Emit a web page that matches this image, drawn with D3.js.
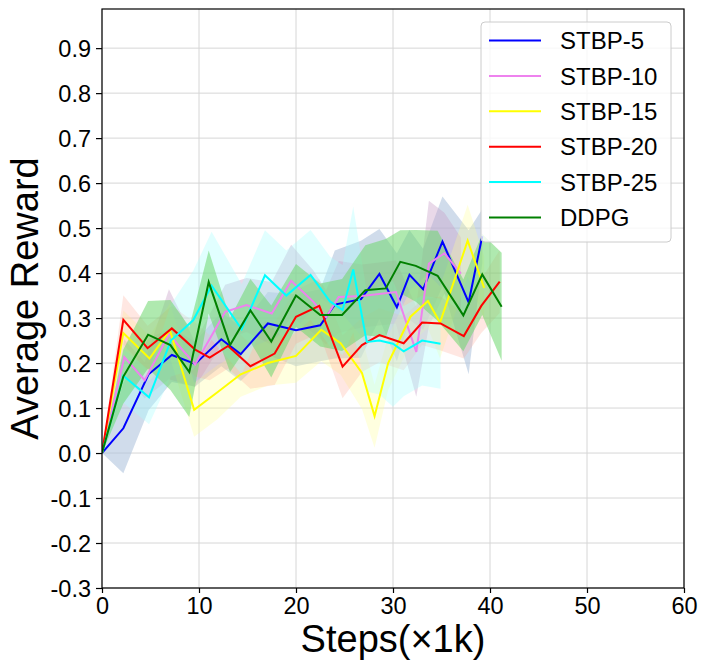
<!DOCTYPE html>
<html>
<head>
<meta charset="utf-8">
<script src="https://cdn.jsdelivr.net/npm/d3@7"></script>
<style>
  body { margin: 0; background: #fff; }
  svg text { font-family: Arial, "Liberation Sans", sans-serif; fill: #000; }
</style>
</head>
<body>
<div id="chart"></div>
<script>
// series: [step (x1k), mean reward]
const stbp5 = [[0, 0], [2.2, 0.055], [4.8, 0.175], [7.2, 0.218], [9.6, 0.198], [12.3, 0.253], [14.3, 0.22], [17.1, 0.288], [20.0, 0.273], [22.5, 0.284], [24.0, 0.33], [26.7, 0.342], [28.6, 0.398], [30.4, 0.324], [31.7, 0.396], [33.1, 0.364], [35.1, 0.47], [37.8, 0.335], [39.2, 0.482]];
const stbp5Spread = [0, 0.1, 0.08, 0.06, 0.05, 0.06, 0.06, 0.07, 0.08, 0.08, 0.12, 0.13, 0.1, 0.12, 0.1, 0.09, 0.1, 0.16, 0.06];

const stbp10 = [[0, 0], [2.3, 0.213], [4.4, 0.162], [6.9, 0.264], [9.6, 0.197], [12.7, 0.314], [14.9, 0.329], [17.5, 0.31], [19.5, 0.383], [21.8, 0.336], [23.1, 0.302], [24.4, 0.347], [26.8, 0.349], [30.3, 0.358], [32.4, 0.225], [33.7, 0.421], [35.3, 0.444], [37.0, 0.399]];
const stbp10Spread = [0, 0.04, 0.04, 0.1, 0.05, 0.06, 0.06, 0.07, 0.08, 0.07, 0.06, 0.08, 0.07, 0.07, 0.1, 0.14, 0.09, 0.08];

const stbp15 = [[0, 0], [2.2, 0.267], [4.9, 0.21], [7.0, 0.273], [9.5, 0.096], [11.9, 0.135], [14.3, 0.175], [17.1, 0.2], [20.0, 0.216], [22.6, 0.274], [24.6, 0.244], [26.8, 0.178], [28.1, 0.082], [29.5, 0.2], [31.8, 0.303], [33.6, 0.338], [34.85, 0.29], [37.7, 0.472], [39.4, 0.367]];
const stbp15Spread = [0, 0.05, 0.05, 0.06, 0.06, 0.06, 0.05, 0.05, 0.06, 0.07, 0.07, 0.08, 0.07, 0.06, 0.06, 0.06, 0.08, 0.08, 0.07];

const stbp20 = [[0, 0], [2.2, 0.296], [4.7, 0.233], [7.2, 0.277], [9.6, 0.23], [11.1, 0.212], [13.0, 0.238], [15.3, 0.193], [17.8, 0.221], [20.0, 0.303], [22.4, 0.327], [24.8, 0.192], [26.8, 0.24], [28.6, 0.262], [31.1, 0.244], [33.0, 0.29], [34.9, 0.288], [37.3, 0.26], [39.1, 0.327], [41.0, 0.381]];
const stbp20Spread = [0, 0.055, 0.05, 0.05, 0.06, 0.05, 0.05, 0.05, 0.07, 0.06, 0.06, 0.07, 0.06, 0.06, 0.06, 0.05, 0.06, 0.05, 0.06, 0.07];

const stbp25 = [[0, 0], [2.2, 0.172], [4.85, 0.124], [7.1, 0.25], [9.4, 0.295], [11.3, 0.372], [14.4, 0.275], [16.8, 0.395], [19.0, 0.35], [21.5, 0.396], [23.5, 0.337], [24.8, 0.318], [25.9, 0.408], [27.3, 0.247], [28.6, 0.25], [30.0, 0.243], [31.1, 0.226], [33.0, 0.25], [34.9, 0.243]];
const stbp25Spread = [0, 0.06, 0.06, 0.08, 0.11, 0.12, 0.1, 0.1, 0.1, 0.1, 0.1, 0.1, 0.14, 0.11, 0.12, 0.14, 0.1, 0.1, 0.1];

const ddpg = [[0, 0], [2.2, 0.17], [4.75, 0.263], [7.05, 0.24], [9.0, 0.18], [11.0, 0.38], [13.2, 0.24], [15.3, 0.317], [17.45, 0.248], [20.0, 0.35], [22.5, 0.307], [24.75, 0.307], [27.15, 0.362], [29.25, 0.366], [30.75, 0.425], [32.35, 0.416], [34.6, 0.394], [37.25, 0.306], [39.2, 0.397], [41.2, 0.325]];
const ddpgSpread = [0, 0.06, 0.075, 0.1, 0.1, 0.07, 0.06, 0.07, 0.08, 0.07, 0.07, 0.08, 0.1, 0.11, 0.07, 0.08, 0.1, 0.08, 0.09, 0.12];

const seriesNames = ['STBP-5', 'STBP-10', 'STBP-15', 'STBP-20', 'STBP-25', 'DDPG'];
const lineColors = ['#0000ff', '#ee82ee', '#ffff00', '#ff0000', '#00ffff', '#008000'];
const bandColors = ['rgba(176,196,222,0.6)', 'rgba(200,160,200,0.4)', 'rgba(255,255,150,0.3)', 'rgba(255,160,140,0.25)', 'rgba(170,255,255,0.35)', 'rgba(110,215,110,0.55)'];

const xTicks = [0, 10, 20, 30, 40, 50, 60];
const yTicks = [-0.3, -0.2, -0.1, 0.0, 0.1, 0.2, 0.3, 0.4, 0.5, 0.6, 0.7, 0.8, 0.9];

const series = [
  { name: seriesNames[0], pts: stbp5, spread: stbp5Spread },
  { name: seriesNames[1], pts: stbp10, spread: stbp10Spread },
  { name: seriesNames[2], pts: stbp15, spread: stbp15Spread },
  { name: seriesNames[3], pts: stbp20, spread: stbp20Spread },
  { name: seriesNames[4], pts: stbp25, spread: stbp25Spread },
  { name: seriesNames[5], pts: ddpg, spread: ddpgSpread }
];

const W = 707, H = 669;
const margin = { top: 9, right: 23, bottom: 81, left: 102 },
  width = W - margin.left - margin.right,
  height = H - margin.top - margin.bottom;

const svg = d3.select('#chart').
  append('svg').
  attr('width', W).
  attr('height', H);

const chart = svg.append('g').
  attr('transform', 'translate(' + margin.left + ',' + margin.top + ')');

const x = d3.scaleLinear().domain([0, 60]).range([0, width]);
const y = d3.scaleLinear().domain([-0.3, 0.987]).range([height, 0]);

// grid
chart.append('g').selectAll('line').
  data(xTicks).
  enter().append('line').
    attr('x1', d => x(d)).attr('x2', d => x(d)).
    attr('y1', 0).attr('y2', height).
    attr('stroke', '#d6d6d6').attr('stroke-width', 1);
chart.append('g').selectAll('line').
  data(yTicks).
  enter().append('line').
    attr('x1', 0).attr('x2', width).
    attr('y1', d => y(d)).attr('y2', d => y(d)).
    attr('stroke', '#d6d6d6').attr('stroke-width', 1);

const clip = chart.append('clipPath').attr('id', 'plotclip');
clip.append('rect').attr('width', width).attr('height', height);

const plot = chart.append('g').attr('clip-path', 'url(#plotclip)');

const area = d3.area().
  x(d => x(d[0])).
  y0(d => y(d[1] - d[2])).
  y1(d => y(d[1] + d[2]));

const line = d3.line().
  x(d => x(d[0])).
  y(d => y(d[1]));

series.forEach(function(s, i) {
  plot.append('path').
    datum(s.pts.map((p, j) => [p[0], p[1], s.spread[j]])).
    attr('fill', bandColors[i]).
    attr('stroke', 'none').
    attr('d', area);
});

series.forEach(function(s, i) {
  plot.append('path').
    datum(s.pts).
    attr('fill', 'none').
    attr('stroke', lineColors[i]).
    attr('stroke-width', 2).
    attr('stroke-linejoin', 'miter').
    attr('d', line);
});

// axes
const xAxis = d3.axisBottom(x).tickValues(xTicks).tickSize(5).tickPadding(3).tickFormat(d3.format('d'));
const gx = chart.append('g').attr('transform', 'translate(0,' + height + ')').call(xAxis);
gx.selectAll('text').style('font-size', '23.5px').attr('dy', '0.75em');

const yAxis = d3.axisLeft(y).tickValues(yTicks).tickSize(6).tickPadding(5).
  tickFormat(d => d.toFixed(1).replace('\u2212', '-'));
const gy = chart.append('g').call(yAxis);
gy.selectAll('text').style('font-size', '23.5px').attr('dy', '0.36em');

[gx, gy].forEach(g => {
  g.select('.domain').remove();
  g.selectAll('line').attr('stroke', '#000').attr('stroke-width', 1.2);
});

// frame
chart.append('rect').
  attr('width', width).attr('height', height).
  attr('fill', 'none').attr('stroke', '#000').attr('stroke-width', 1.2);

// labels
svg.append('text').
  attr('x', margin.left + width / 2).
  attr('y', 652).
  attr('text-anchor', 'middle').
  style('font-size', '38px').
  text('Steps(\u00d71k)');

svg.append('text').
  attr('transform', 'translate(38,' + (margin.top + height / 2) + ') rotate(-90)').
  attr('text-anchor', 'middle').
  style('font-size', '38px').
  text('Average Reward');

// legend
const legend = chart.append('g').attr('transform', 'translate(' + (481 - margin.left) + ',' + (22 - margin.top) + ')');
legend.append('rect').
  attr('width', 190).attr('height', 220).
  attr('rx', 4).
  attr('fill', 'rgba(255,255,255,0.8)').
  attr('stroke', '#cccccc').attr('stroke-width', 1);

const rows = legend.selectAll('.row').
  data(seriesNames).
  enter().append('g').
    attr('class', 'row').
    attr('transform', (d, i) => 'translate(0,' + (18.5 + i * 35.4) + ')');
rows.append('line').
  attr('x1', 8).attr('x2', 60).
  attr('stroke', (d, i) => lineColors[i]).
  attr('stroke-width', 2);
rows.append('text').
  attr('x', 79).
  attr('dy', '0.36em').
  style('font-size', '24px').
  text(d => d);
</script>
</body>
</html>
